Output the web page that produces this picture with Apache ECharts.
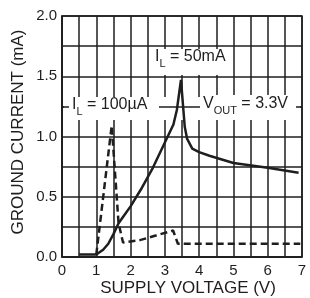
<!DOCTYPE html>
<html>
<head>
<meta charset="utf-8">
<script src="https://cdn.jsdelivr.net/npm/echarts@6/dist/echarts.min.js"></script>
<style>
html, body { margin: 0; padding: 0; background: #fff; }
#chart { width: 310px; height: 298px; }
</style>
</head>
<body>
<div id="chart"></div>
<script>
// I_L = 50mA 曲线 (实线)
const supply50mA = [0.5, 1.0, 1.2, 1.35, 1.5, 1.65, 1.8, 2.0, 2.3, 2.65, 3.0, 3.25, 3.35, 3.47, 3.58, 3.65, 3.8, 4.0, 4.3, 5.0, 6.0, 6.9];
const ground50mA = [0.02, 0.02, 0.06, 0.11, 0.19, 0.28, 0.34, 0.42, 0.56, 0.74, 0.95, 1.1, 1.22, 1.47, 1.08, 0.98, 0.9, 0.87, 0.84, 0.78, 0.74, 0.70];

// I_L = 100uA 曲线 (虚线)
const supply100uA = [1.0, 1.45, 1.65, 1.78, 2.27, 2.76, 3.24, 3.38, 6.95];
const ground100uA = [0.02, 1.09, 0.28, 0.12, 0.14, 0.18, 0.22, 0.11, 0.11];

// 坐标轴
const xRange = [0, 7];
const yRange = [0, 2];

const FONT = "'Liberation Sans', Arial, sans-serif";
const INK = '#1e1e1e';

function toPairs(xs, ys) {
    return xs.map((x, i) => [x, ys[i]]);
}

const chart = echarts.init(document.getElementById('chart'));

const option = {
    animation: false,
    grid: {
        left: 62, right: 8, top: 16, bottom: 41,
        show: true,
        borderColor: INK,
        borderWidth: 1.5
    },
    xAxis: {
        type: 'value',
        min: xRange[0], max: xRange[1], interval: 0.5,
        axisLine: { show: true, lineStyle: { color: INK, width: 1.5 } },
        axisTick: { show: false },
        splitLine: { show: true, lineStyle: { color: INK, width: 1.5 } },
        axisLabel: {
            margin: 6,
            color: INK, fontSize: 15, fontFamily: FONT,
            formatter: v => Number.isInteger(v) ? String(v) : ''
        }
    },
    yAxis: {
        type: 'value',
        min: yRange[0], max: yRange[1], interval: 0.25,
        axisLine: { show: true, lineStyle: { color: INK, width: 1.5 } },
        axisTick: { show: false },
        splitLine: { show: true, lineStyle: { color: INK, width: 1.5 } },
        axisLabel: {
            margin: 5,
            color: INK, fontSize: 15, fontFamily: FONT,
            formatter: v => (v % 0.5 === 0) ? v.toFixed(1) : ''
        }
    },
    series: [
        {
            type: 'line',
            data: toPairs(supply50mA, ground50mA),
            symbol: 'none',
            lineStyle: { color: INK, width: 2.5 },
            z: 5
        },
        {
            type: 'line',
            data: toPairs(supply100uA, ground100uA),
            symbol: 'none',
            lineStyle: { color: INK, width: 2.5, type: [7, 4] },
            z: 5
        }
    ],
    graphic: [
        // 标注背景
        { type: 'rect', z: 1, shape: { x: 64, y: 97, width: 236, height: 23 }, style: { fill: '#fff' } },
        { type: 'line', z: 1.2, shape: { x1: 62, y1: 107, x2: 302, y2: 107 }, style: { stroke: INK, lineWidth: 1.5 } },
        { type: 'rect', z: 1.4, shape: { x: 151, y: 49, width: 80, height: 26 }, style: { fill: '#fff' } },
        { type: 'rect', z: 1.4, shape: { x: 69, y: 97, width: 90, height: 23 }, style: { fill: '#fff' } },
        { type: 'rect', z: 1.4, shape: { x: 200, y: 95, width: 96, height: 25 }, style: { fill: '#fff' } },
        // 标注文字
        labelText(155, 57, 'I', 'L', ' = 50mA'),
        labelText(72, 105, 'I', 'L', ' = 100\u00b5A'),
        labelText(203, 104, 'V', 'OUT', ' = 3.3V'),
        // 坐标轴标题
        {
            type: 'text', z: 3, x: 18, y: 132, rotation: Math.PI / 2,
            style: {
                text: 'GROUND CURRENT (mA)', fill: INK,
                fontSize: 17, fontFamily: FONT,
                align: 'center', verticalAlign: 'middle'
            }
        },
        {
            type: 'text', z: 3, x: 188, y: 288,
            style: {
                text: 'SUPPLY VOLTAGE (V)', fill: INK,
                fontSize: 17, fontFamily: FONT,
                align: 'center', verticalAlign: 'middle'
            }
        }
    ]
};

// 带下标的标注
function labelText(x, y, main, sub, rest) {
    return {
        type: 'text', z: 3, x: x, y: y,
        style: {
            text: '{m|' + main + '}{s|' + sub + '}{m|' + rest + '}',
            align: 'left', verticalAlign: 'middle',
            rich: {
                m: { fill: INK, fontSize: 16, fontFamily: FONT, lineHeight: 18 },
                s: { fill: INK, fontSize: 11, fontFamily: FONT, lineHeight: 11, padding: [14, 0, 0, 0] }
            }
        }
    };
}

chart.setOption(option);
</script>
</body>
</html>
